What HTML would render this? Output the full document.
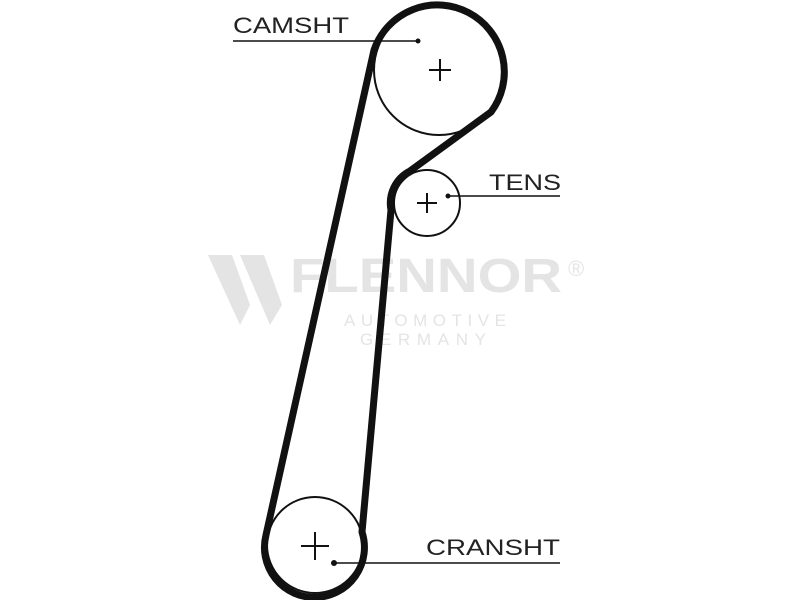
<!DOCTYPE html>
<html><head><meta charset="utf-8"><style>
html,body{margin:0;padding:0;background:#fff;}
svg{display:block;}
</style></head><body>
<svg width="800" height="600" viewBox="0 0 800 600" xmlns="http://www.w3.org/2000/svg">
<rect width="800" height="600" fill="#fff"/>
<!-- watermark -->
<g fill="#e4e4e4">
<polygon points="208,255 232,255 250,305 240,325"/>
<polygon points="240,255 264,255 282,305 270,325"/>
<text x="290" y="292" font-family="Liberation Sans, sans-serif" font-weight="bold" font-size="48" textLength="272" lengthAdjust="spacingAndGlyphs">FLENNOR</text>
<text x="568" y="276" font-family="Liberation Sans, sans-serif" font-size="22">®</text>
<text x="344" y="326" font-family="Liberation Sans, sans-serif" font-size="17" textLength="162" lengthAdjust="spacing">AUTOMOTIVE</text>
<text x="360" y="345" font-family="Liberation Sans, sans-serif" font-size="17" textLength="126" lengthAdjust="spacing">GERMANY</text>
</g>
<!-- pulleys -->
<g fill="none" stroke="#111" stroke-width="2">
<circle cx="439" cy="70" r="65"/>
<circle cx="427" cy="203" r="33"/>
<circle cx="315" cy="545" r="48"/>
</g>
<!-- belt -->
<path d="M374,50 A67,67 0 1 1 491,112 L410,171 A36,36 0 0 0 391,210 L362,532 A50,50 0 1 1 266,535 Z" fill="none" stroke="#111" stroke-width="7" stroke-linejoin="round"/>
<!-- crosses -->
<g stroke="#111" stroke-width="2">
<line x1="429" y1="70" x2="451" y2="70"/><line x1="440" y1="59" x2="440" y2="81"/>
<line x1="417" y1="203" x2="437" y2="203"/><line x1="427" y1="193" x2="427" y2="213"/>
<line x1="301" y1="546" x2="329" y2="546"/><line x1="315" y1="532" x2="315" y2="560"/>
</g>
<!-- leaders -->
<g stroke="#111" stroke-width="1.5">
<line x1="233" y1="41" x2="418" y2="41"/>
<line x1="448" y1="196" x2="560" y2="196"/>
<line x1="333" y1="563" x2="560" y2="563"/>
</g>
<g fill="#111">
<circle cx="418" cy="41" r="2.5"/>
<circle cx="448" cy="196" r="2.5"/>
<circle cx="334" cy="563" r="3"/>
</g>
<g font-family="Liberation Sans, sans-serif" font-size="22" fill="#222">
<text x="233" y="33" textLength="116" lengthAdjust="spacingAndGlyphs">CAMSHT</text>
<text x="489" y="190" textLength="72" lengthAdjust="spacingAndGlyphs">TENS</text>
<text x="426" y="555" textLength="134" lengthAdjust="spacingAndGlyphs">CRANSHT</text>
</g>
</svg>
</body></html>
